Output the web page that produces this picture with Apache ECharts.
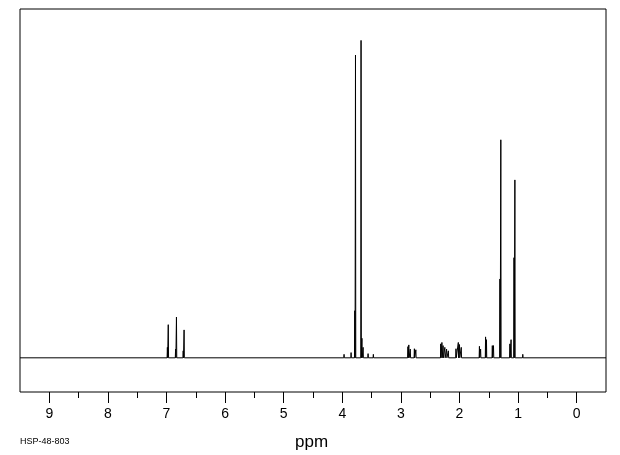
<!DOCTYPE html>
<html>
<head>
<meta charset="utf-8">
<script src="https://cdn.jsdelivr.net/npm/echarts@6/dist/echarts.min.js"></script>
<style>html,body{margin:0;padding:0;background:#fff}#c{width:620px;height:455px}</style>
</head>
<body>
<div id="c"></div>
<script>
// Peak positions (ppm) and heights (relative intensity)
var peakPpm = [6.985, 6.97, 6.845, 6.83, 6.715, 6.70,
  3.97, 3.85, 3.787, 3.775, 3.68, 3.665, 3.645, 3.56, 3.47,
  2.88, 2.865, 2.84, 2.77, 2.745,
  2.32, 2.30, 2.28, 2.25, 2.22, 2.19,
  2.06, 2.02, 2.00, 1.97,
  1.66, 1.64, 1.555, 1.54, 1.44, 1.42,
  1.31, 1.295, 1.14, 1.12, 1.07, 1.055, 0.92];
var peakHeight = [3, 9.5, 2.5, 11.7, 2, 8.0,
  1, 1.5, 13.5, 86.8, 91, 5.6, 3, 1.2, 1,
  3.2, 3.7, 2.5, 2.6, 2.3,
  4, 4.4, 3.5, 3, 2.5, 2,
  2.6, 4.4, 3.8, 3,
  3.3, 2.5, 6.0, 5.2, 3.5, 3.5,
  22.6, 62.5, 4, 5.2, 28.7, 51, 1];
var xRange = [-0.5, 9.5];
var majorTicks = [0, 1, 2, 3, 4, 5, 6, 7, 8, 9];
var minorTicks = [0.5, 1.5, 2.5, 3.5, 4.5, 5.5, 6.5, 7.5, 8.5];
var xLabel = 'ppm';
var codeLabel = 'HSP-48-803';

// build spectrum line: baseline with narrow peaks
var halfW = 0.005;
var spectrum = [[xRange[1], 0]];
for (var i = 0; i < peakPpm.length; i++) {
  spectrum.push([peakPpm[i] + halfW, 0]);
  spectrum.push([peakPpm[i], peakHeight[i]]);
  spectrum.push([peakPpm[i] - halfW, 0]);
}
spectrum.push([xRange[0], 0]);

var chart = echarts.init(document.getElementById('c'), null, {renderer: 'canvas'});
var labelFont = 'Liberation Sans, DejaVu Sans, sans-serif';
chart.setOption({
  animation: false,
  grid: {left: 20, right: 14, top: 9, bottom: 63, show: true, borderColor: '#000', borderWidth: 1, backgroundColor: '#fff'},
  xAxis: [{
    type: 'value', inverse: true, min: xRange[0], max: xRange[1], position: 'bottom',
    axisLine: {show: false, onZero: false},
    splitLine: {show: false},
    axisTick: {show: true, customValues: majorTicks, length: 11, lineStyle: {color: '#000', width: 1}},
    axisLabel: {show: true, customValues: majorTicks, margin: 15, color: '#000', fontSize: 14, fontFamily: labelFont}
  }, {
    type: 'value', inverse: true, min: xRange[0], max: xRange[1], position: 'bottom',
    axisLine: {show: false, onZero: false},
    splitLine: {show: false},
    axisTick: {show: true, customValues: minorTicks, length: 6, lineStyle: {color: '#000', width: 1}},
    axisLabel: {show: false}
  }],
  yAxis: {type: 'value', min: -9.8, max: 100, show: false},
  graphic: [
    {type: 'text', left: 295, top: 434, style: {text: xLabel, fontSize: 17, fontFamily: labelFont, fill: '#000'}},
    {type: 'text', left: 20, top: 437, style: {text: codeLabel, fontSize: 9, fontFamily: labelFont, fill: '#000'}}
  ],
  series: [{
    type: 'line', xAxisIndex: 0, data: spectrum, showSymbol: false, symbol: 'none',
    sampling: null, lineStyle: {color: '#000', width: 1}, silent: true
  }]
});
</script>
</body>
</html>
